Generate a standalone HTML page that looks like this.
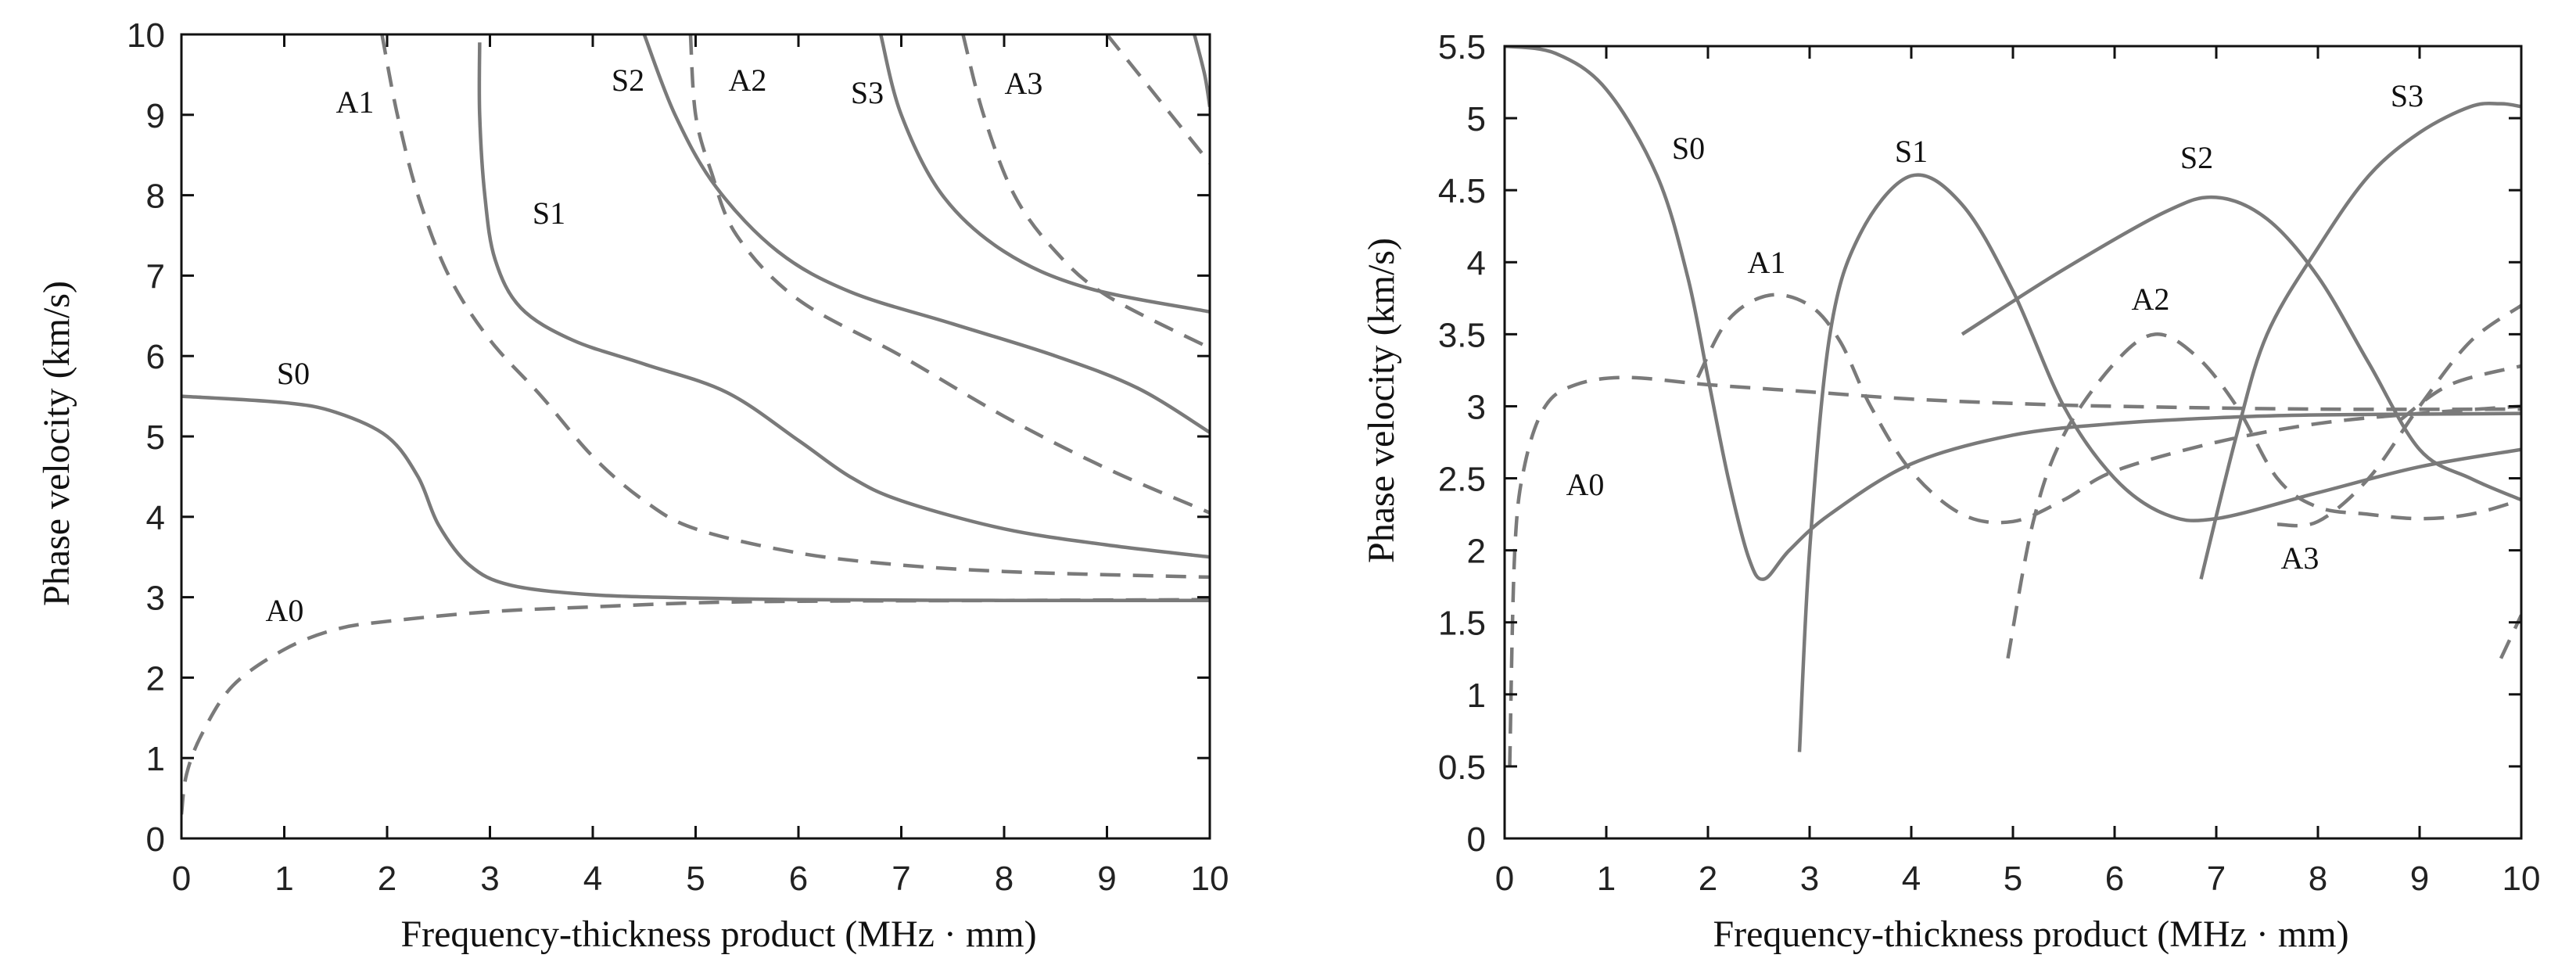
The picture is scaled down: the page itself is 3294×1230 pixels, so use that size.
<!DOCTYPE html>
<html><head><meta charset="utf-8">
<style>
html,body{margin:0;padding:0;background:#fff;}
svg{display:block;}
</style></head>
<body>
<svg id="chart" width="3294" height="1230" viewBox="0 0 3294 1230" xmlns="http://www.w3.org/2000/svg">
<g id="left"></g>
<g id="right"></g>
</svg>
<script>
// ---------- Data: left chart ----------
const leftXTicks = [0,1,2,3,4,5,6,7,8,9,10];
const leftYTicks = [0,1,2,3,4,5,6,7,8,9,10];
const leftS0 = [[0,5.5],[1,5.42],[1.5,5.3],[2,5.0],[2.3,4.5],[2.5,3.9],[2.8,3.4],[3.2,3.15],[4,3.03],[5,2.99],[6,2.97],[8,2.96],[10,2.96]];
const leftA0 = [[0,0.3],[0.05,0.8],[0.2,1.3],[0.5,1.9],[1,2.35],[1.5,2.6],[2,2.7],[3,2.82],[4,2.88],[5,2.93],[6,2.95],[8,2.96],[10,2.97]];
const leftA1 = [[1.95,10],[2.1,9],[2.3,8],[2.6,7],[3,6.2],[3.5,5.5],[4,4.75],[4.5,4.2],[5,3.85],[6,3.55],[7,3.4],[8,3.32],[9,3.28],[10,3.25]];
const leftS1 = [[2.9,9.9],[2.9,9],[2.95,8],[3.05,7.2],[3.3,6.6],[3.8,6.2],[4.5,5.9],[5.3,5.55],[6,4.95],[6.5,4.5],[7,4.2],[8,3.85],[9,3.65],[10,3.5]];
const leftS2 = [[4.5,10],[4.8,9],[5.2,8.1],[5.8,7.3],[6.5,6.8],[7.5,6.4],[8.5,6.0],[9.3,5.6],[10,5.05]];
const leftA2 = [[4.95,10],[5.0,9],[5.15,8.3],[5.4,7.5],[6,6.7],[7,6.0],[8,5.25],[9,4.6],[10,4.05]];
const leftS3 = [[6.8,10],[7.0,9],[7.4,8],[8,7.3],[8.8,6.85],[10,6.55]];
const leftA3 = [[7.6,10],[7.8,9],[8.1,8],[8.5,7.3],[9,6.75],[10,6.1]];
const leftA4 = [[9.0,10],[9.5,9.2],[10,8.4]];
const leftS4 = [[9.85,10],[9.95,9.5],[10,9.1]];
// ---------- Data: right chart ----------
const rightXTicks = [0,1,2,3,4,5,6,7,8,9,10];
const rightYTicks = [0,0.5,1,1.5,2,2.5,3,3.5,4,4.5,5,5.5];
const rightS0 = [[0,5.5],[0.5,5.45],[1,5.2],[1.5,4.6],[1.8,3.9],[2.0,3.2],[2.2,2.5],[2.4,1.95],[2.55,1.8],[2.8,2.0],[3.2,2.25],[4,2.6],[5,2.8],[6,2.88],[7,2.92],[8,2.94],[10,2.95]];
const rightS1 = [[2.9,0.6],[3.0,2.0],[3.2,3.5],[3.5,4.2],[4.0,4.6],[4.5,4.4],[5,3.8],[5.5,3.0],[6,2.5],[6.5,2.25],[7,2.22],[8,2.4],[9,2.58],[10,2.7]];
const rightS2 = [[4.5,3.5],[5.5,3.95],[6.5,4.35],[7,4.45],[7.5,4.3],[8,3.9],[8.5,3.3],[9,2.7],[9.5,2.5],[10,2.35]];
const rightS3 = [[6.85,1.8],[7.2,2.8],[7.5,3.5],[8,4.1],[8.5,4.6],[9,4.9],[9.5,5.08],[9.8,5.1],[10,5.08]];
const rightA0 = [[0.05,0.5],[0.1,2.0],[0.2,2.6],[0.4,3.0],[0.7,3.15],[1.2,3.2],[2,3.15],[3,3.1],[4,3.05],[5,3.02],[6,3.0],[8,2.98],[10,2.98]];
const rightA1 = [[1.9,3.2],[2.2,3.6],[2.6,3.77],[3.0,3.7],[3.3,3.45],[3.6,3.0],[4,2.55],[4.5,2.25],[5,2.2],[5.5,2.35],[6,2.55],[7,2.75],[8,2.88],[9,2.95],[10,3.0]];
const rightA2 = [[4.95,1.25],[5.2,2.2],[5.5,2.8],[6,3.3],[6.4,3.5],[6.8,3.35],[7.2,3.0],[7.6,2.5],[8,2.3],[8.5,2.25],[9,2.22],[9.5,2.25],[10,2.35]];
const rightA3 = [[7.6,2.18],[8,2.2],[8.5,2.5],[9,3.0],[9.5,3.45],[10,3.7]];
const rightA3b = [[8.8,2.9],[9.3,3.15],[10,3.28]];
const rightA4 = [[9.8,1.25],[10,1.55]];

const NS = 'http://www.w3.org/2000/svg';
function mk(tag, attrs, parent){const e=document.createElementNS(NS,tag);for(const k in attrs)e.setAttribute(k,attrs[k]);parent.appendChild(e);return e;}

function drawChart(g, cfg){
  const sx = v => cfg.x0 + (v-cfg.xmin)/(cfg.xmax-cfg.xmin)*(cfg.x1-cfg.x0);
  const sy = v => cfg.yb - (v-cfg.ymin)/(cfg.ymax-cfg.ymin)*(cfg.yb-cfg.yt);
  // curves (clip)
  const cid = 'clip'+cfg.id;
  const cp = mk('clipPath',{id:cid},g);
  mk('rect',{x:cfg.x0,y:cfg.yt,width:cfg.x1-cfg.x0,height:cfg.yb-cfg.yt},cp);
  const cg = mk('g',{'clip-path':'url(#'+cid+')'},g);
  
  
  cfg.series.forEach(s=>{
    const pts = s.data.map(p=>[sx(p[0]),sy(p[1])]);
    let d='M'+pts[0][0]+','+pts[0][1];
    for(let i=0;i<pts.length-1;i++){
      const p0=pts[Math.max(0,i-1)],p1=pts[i],p2=pts[i+1],p3=pts[Math.min(pts.length-1,i+2)];
      const c1=[p1[0]+(p2[0]-p0[0])/6,p1[1]+(p2[1]-p0[1])/6];
      const c2=[p2[0]-(p3[0]-p1[0])/6,p2[1]-(p3[1]-p1[1])/6];
      d+=' C'+c1[0]+','+c1[1]+' '+c2[0]+','+c2[1]+' '+p2[0]+','+p2[1];
    }
    const path = mk('path',{d:d,fill:'none',stroke:'#7a7a7a','stroke-width':4.5,'stroke-dasharray':s.dash?'26,16':'none'},cg);
    
    
  });
  // frame
  const fr = mk('rect',{x:cfg.x0,y:cfg.yt,width:cfg.x1-cfg.x0,height:cfg.yb-cfg.yt,fill:'none',stroke:'#111','stroke-width':3},g);
  
  
  // ticks
  cfg.xticks.forEach(t=>{
    const x=sx(t);
    mk('line',{x1:x,y1:cfg.yb,x2:x,y2:cfg.yb-16,stroke:'#111','stroke-width':3},g);
    mk('line',{x1:x,y1:cfg.yt,x2:x,y2:cfg.yt+16,stroke:'#111','stroke-width':3},g);
    const tx=mk('text',{x:x,y:cfg.yb+66,'text-anchor':'middle','font-size':44,'font-family':'Liberation Sans, sans-serif',fill:'#222'},g);
    tx.textContent=String(t);
    
    
  });
  cfg.yticks.forEach(t=>{
    const y=sy(t);
    mk('line',{x1:cfg.x0,y1:y,x2:cfg.x0+16,y2:y,stroke:'#111','stroke-width':3},g);
    mk('line',{x1:cfg.x1,y1:y,x2:cfg.x1-16,y2:y,stroke:'#111','stroke-width':3},g);
    const ty=mk('text',{x:cfg.ylabX,y:y+16,'text-anchor':'end','font-size':44,'font-family':'Liberation Sans, sans-serif',fill:'#222'},g);
    ty.textContent=String(t);
    
    
  });
  const xt=mk('text',{x:cfg.xtX,y:1210,'text-anchor':'middle','font-size':48,'font-family':'Liberation Serif, serif',fill:'#111'},g);
  xt.textContent='Frequency-thickness product (MHz · mm)';
  
  
  const yt=mk('text',{x:0,y:0,'text-anchor':'middle','font-size':48,'font-family':'Liberation Serif, serif',fill:'#111',transform:'translate('+cfg.ytX+','+cfg.ytY+') rotate(-90)'},g);
  yt.textContent='Phase velocity (km/s)';
  
  
  cfg.labels.forEach(l=>{
    const t=mk('text',{x:l[1],y:l[2]+14,'text-anchor':'middle','font-size':40,'font-family':'Liberation Serif, serif',fill:'#111'},g);
    t.textContent=l[0];
    
    
  });
}

drawChart(document.getElementById('left'),{
  id:'L',x0:232,x1:1547,yt:44,yb:1072,xmin:0,xmax:10,ymin:0,ymax:10,
  xticks:leftXTicks,yticks:leftYTicks,ylabX:211,xtX:919,ytX:88,ytY:567,
  series:[{name:'s0-curve',data:leftS0},{name:'a0-curve',data:leftA0,dash:1},{name:'a1-curve',data:leftA1,dash:1},
    {name:'s1-curve',data:leftS1},{name:'s2-curve',data:leftS2},{name:'a2-curve',data:leftA2,dash:1},
    {name:'s3-curve',data:leftS3},{name:'a3-curve',data:leftA3,dash:1},{name:'a4-curve',data:leftA4,dash:1},{name:'s4-curve',data:leftS4}],
  labels:[['A1',454,130],['S2',803,102],['A2',956,102],['S3',1109,118],['A3',1309,106],['S1',702,272],['S0',375,477],['A0',364,780]]
});
drawChart(document.getElementById('right'),{
  id:'R',x0:1924,x1:3224,yt:59,yb:1072,xmin:0,xmax:10,ymin:0,ymax:5.5,
  xticks:rightXTicks,yticks:rightYTicks,ylabX:1900,xtX:2597,ytX:1782,ytY:512,
  series:[{name:'s0-curve',data:rightS0},{name:'s1-curve',data:rightS1},{name:'s2-curve',data:rightS2},{name:'s3-curve',data:rightS3},
    {name:'a0-curve',data:rightA0,dash:1},{name:'a1-curve',data:rightA1,dash:1},{name:'a2-curve',data:rightA2,dash:1},
    {name:'a3-curve',data:rightA3,dash:1},{name:'a3b-curve',data:rightA3b,dash:1},{name:'a4-curve',data:rightA4,dash:1}],
  labels:[['S0',2159,189],['S1',2444,193],['S2',2809,201],['S3',3078,122],['A1',2259,335],['A2',2750,382],['A0',2027,619],['A3',2941,713]]
});
</script>
</body></html>
